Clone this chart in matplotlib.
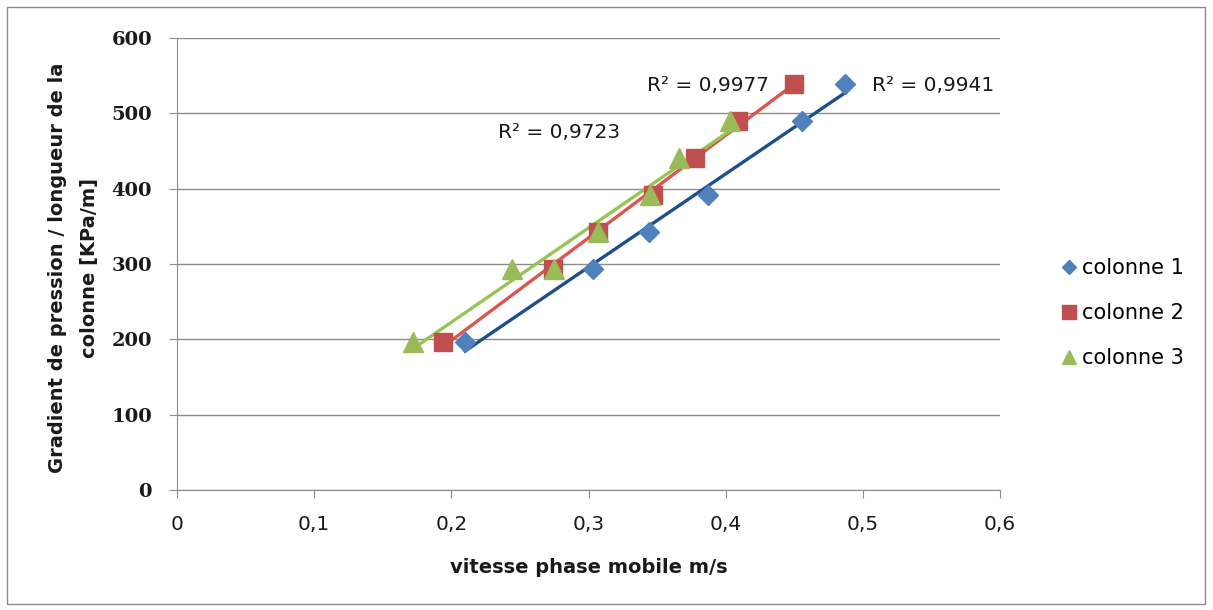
import numpy as np
import matplotlib.pyplot as plt
from matplotlib.patches import Rectangle

# mesures: gradient de pression / longueur vs vitesse phase mobile
v_col1 = [0.210, 0.303, 0.344, 0.387, 0.456, 0.487]
p_col1 = [196, 294, 343, 392, 490, 539]

v_col2 = [0.194, 0.274, 0.307, 0.347, 0.378, 0.409, 0.450]
p_col2 = [196, 294, 343, 392, 441, 490, 539]

v_col3 = [0.172, 0.244, 0.275, 0.307, 0.345, 0.366, 0.403]
p_col3 = [196, 294, 294, 343, 392, 441, 490]

r2_labels = ["R² = 0,9941", "R² = 0,9977", "R² = 0,9723"]
xticks = [0, 0.1, 0.2, 0.3, 0.4, 0.5, 0.6]
yticks = [0, 100, 200, 300, 400, 500, 600]

fig = plt.figure(figsize=(12.13, 6.10), dpi=100)
ax = fig.add_axes([177/1213, 1 - 490/610, (1000-177)/1213, (490-38)/610])

series = [
    (v_col1, p_col1, "colonne 1", "D", "#4F81BD", "#1F4E8C", 10),
    (v_col2, p_col2, "colonne 2", "s", "#C0504D", "#DC5550", 13.5),
    (v_col3, p_col3, "colonne 3", "^", "#9BBB59", "#95C556", 14),
]

# trendlines (linear fit over each series' range)
for x, y, name, mk, col, lcol, ms in series:
    a, b = np.polyfit(x, y, 1)
    xs = np.array([min(x), max(x)])
    ax.plot(xs, a * xs + b, color=lcol, lw=2.4, zorder=2)
for x, y, name, mk, col, lcol, ms in series:
    ax.plot(x, y, linestyle="none", marker=mk, ms=ms, color=col,
            label=name, zorder=3)

lab_kw = dict(fontsize=14.5, family="DejaVu Sans", va="center", color="#1a1a1a")
ax.text(0.507, 537, r2_labels[0], **lab_kw)
ax.text(0.343, 537, r2_labels[1], **lab_kw)
ax.text(0.234, 475, r2_labels[2], **lab_kw)

ax.set_xlim(0, 0.6)
ax.set_ylim(0, 600)
ax.set_xticks(xticks)
ax.set_yticks(yticks)
ax.set_xticklabels([f"{t:g}".replace(".", ",") for t in xticks],
                   fontsize=14.5, family="DejaVu Sans")
ax.set_yticklabels([str(t) for t in yticks], fontsize=14,
                   family="DejaVu Serif", fontweight="semibold")
ax.grid(axis="y", color="#8C8C8C", lw=1)
ax.set_axisbelow(True)
for s in ["top", "right"]:
    ax.spines[s].set_visible(False)
for s in ["left", "bottom"]:
    ax.spines[s].set_color("#8C8C8C")
ax.tick_params(axis="both", direction="out", length=6, color="#8C8C8C",
               labelcolor="#1a1a1a")
ax.tick_params(axis="y", pad=12)
ax.tick_params(axis="x", pad=12)

ax.set_xlabel("vitesse phase mobile m/s", fontsize=14, fontweight="bold",
              family="DejaVu Sans", color="#1a1a1a")
ax.xaxis.set_label_coords(0.5, -0.15)
ax.set_ylabel("Gradient de pression / longueur de la\ncolonne [KPa/m]",
              fontsize=14, fontweight="bold", family="DejaVu Sans",
              linespacing=1.85, color="#1a1a1a")
ax.yaxis.set_label_coords(-0.095, 0.491)

ax.legend(loc="center left", bbox_to_anchor=(1.074, 0.392), frameon=False,
          borderpad=0, borderaxespad=0, handletextpad=0.2, labelspacing=1.2,
          handlelength=0.8, markerscale=0.72,
          prop={"family": "DejaVu Sans", "size": 15})

fig.patches.append(Rectangle((7/1213, 6/610), 1198/1213, 597/610,
                             transform=fig.transFigure, fill=False,
                             edgecolor="#8C8C8C", lw=1))

fig.savefig("out.png", dpi=100)
